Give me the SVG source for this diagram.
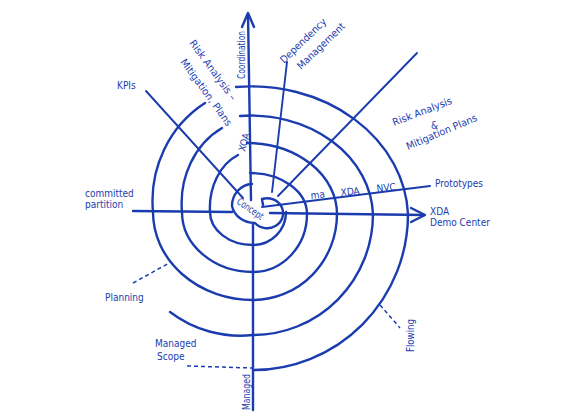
<svg xmlns="http://www.w3.org/2000/svg" width="570" height="416" viewBox="0 0 570 416">
<style>
.s{fill:none;stroke:#1b3cae;stroke-width:2.4;stroke-linecap:round;stroke-linejoin:round}
.l{fill:none;stroke:#1b3cae;stroke-width:1.9;stroke-linecap:round}
.d{fill:none;stroke:#1b3cae;stroke-width:1.5;stroke-dasharray:4 3}
text{font-family:"Liberation Sans Narrow","DejaVu Sans Condensed","Liberation Sans",sans-serif;fill:#1b3cae;font-size:10px}
</style>
<rect width="570" height="416" fill="#ffffff"/>
<g id="connectors">
<path class="s" d="M251,200 L248,14"/>
<path class="s" d="M253,410 L253,224"/>
<path class="s" d="M242,27 L248,13 L254,27"/>
<path class="s" d="M133,211 L232,212"/>
<path class="s" d="M270,213 L424,215"/>
<path class="s" d="M411,208 L425,215 L411,222"/>
<path class="l" d="M146,91 L243,198"/>
<path class="l" d="M287,62 L272,192"/>
<path class="l" d="M417,53 L278,196"/>
<path class="l" d="M262,207 L430,186"/>
<path class="d" d="M133,283 L171,262"/>
<path class="d" d="M187,366 L252,368"/>
<path class="d" d="M380,305 L400,328"/>
</g>
<g id="spiral">
<path class="s" d="M236,87 A157,133 0 0 1 408,214 A155,156 0 0 1 253,370"/>
<path class="s" d="M240,116 A122,102 0 0 1 373,214 A120,121 0 0 1 253,335 A118,121 0 0 1 170,312"/>
<path class="s" d="M247,143 A90,71 0 0 1 337,214 A84,86 0 0 1 253,300 A100,88 0 0 1 153,212 A110,115 0 0 1 205,103"/>
<path class="s" d="M250,173 A57,41 0 0 1 307,214 A54,58 0 0 1 253,272 A71,60 0 0 1 182,212 A75,85 0 0 1 222,128"/>
<path class="s" d="M286,212 A33,33 0 0 1 253,245 A43,33 0 0 1 210,212 A45,57 0 0 1 238,155"/>
<path class="s" d="M263,205 L262,199 M262,199 A16,15 0 1 1 255,223 A23,21 0 0 1 232,206 A21,22 0 0 1 252,184"/>
</g>
<g id="axis-labels">
<text transform="translate(245,79) rotate(-90)" textLength="48" lengthAdjust="spacingAndGlyphs" font-size="9">Coordination</text>
<text transform="translate(250,410) rotate(-90)" textLength="36" lengthAdjust="spacingAndGlyphs" font-size="9">Managed</text>
<text x="430" y="215" font-size="10">XDA</text>
<text x="430" y="226" font-size="10">Demo Center</text>
</g>
<g id="kpis"><text x="117" y="89" font-size="13">KPIs</text></g>
<g id="dependency">
<text transform="translate(284,64) rotate(-44)" textLength="60" lengthAdjust="spacingAndGlyphs">Dependency</text>
<text transform="translate(301,70) rotate(-44)" textLength="62" lengthAdjust="spacingAndGlyphs">Management</text>
</g>
<g id="risk-left">
<text transform="translate(189,43) rotate(54)" textLength="72" lengthAdjust="spacingAndGlyphs">Risk Analysis –</text>
<text transform="translate(180,62) rotate(54)" textLength="80" lengthAdjust="spacingAndGlyphs">Mitigation, Plans</text>
</g>
<g id="xoa"><text transform="translate(245,152) rotate(-75)" font-size="8">XOA</text></g>
<g id="risk-right">
<text transform="translate(394,126) rotate(-21)" textLength="63" lengthAdjust="spacingAndGlyphs" font-size="11">Risk Analysis</text>
<text x="431" y="129" font-size="11">&amp;</text>
<text transform="translate(408,150) rotate(-23)" textLength="76" lengthAdjust="spacingAndGlyphs" font-size="11">Mitigation Plans</text>
</g>
<g id="prototypes">
<text x="435" y="187" font-size="11">Prototypes</text>
<text transform="translate(311,199) rotate(-6)" font-size="8">ma</text>
<text transform="translate(341,196) rotate(-6)" font-size="9">XDA</text>
<text transform="translate(377,192) rotate(-6)" font-size="9">NVC</text>
</g>
<g id="concept"><text transform="translate(236,203) rotate(35)" textLength="30" lengthAdjust="spacingAndGlyphs" font-size="9.5">Concept</text></g>
<g id="committed">
<text x="85" y="197">committed</text>
<text x="85" y="208">partition</text>
</g>
<g id="planning"><text x="105" y="301" font-size="11">Planning</text></g>
<g id="managed-scope">
<text x="155" y="347">Managed</text>
<text x="157" y="360">Scope</text>
</g>
<g id="flowing"><text transform="translate(414,352) rotate(-90)" textLength="33" lengthAdjust="spacingAndGlyphs">Flowing</text></g>
</svg>
